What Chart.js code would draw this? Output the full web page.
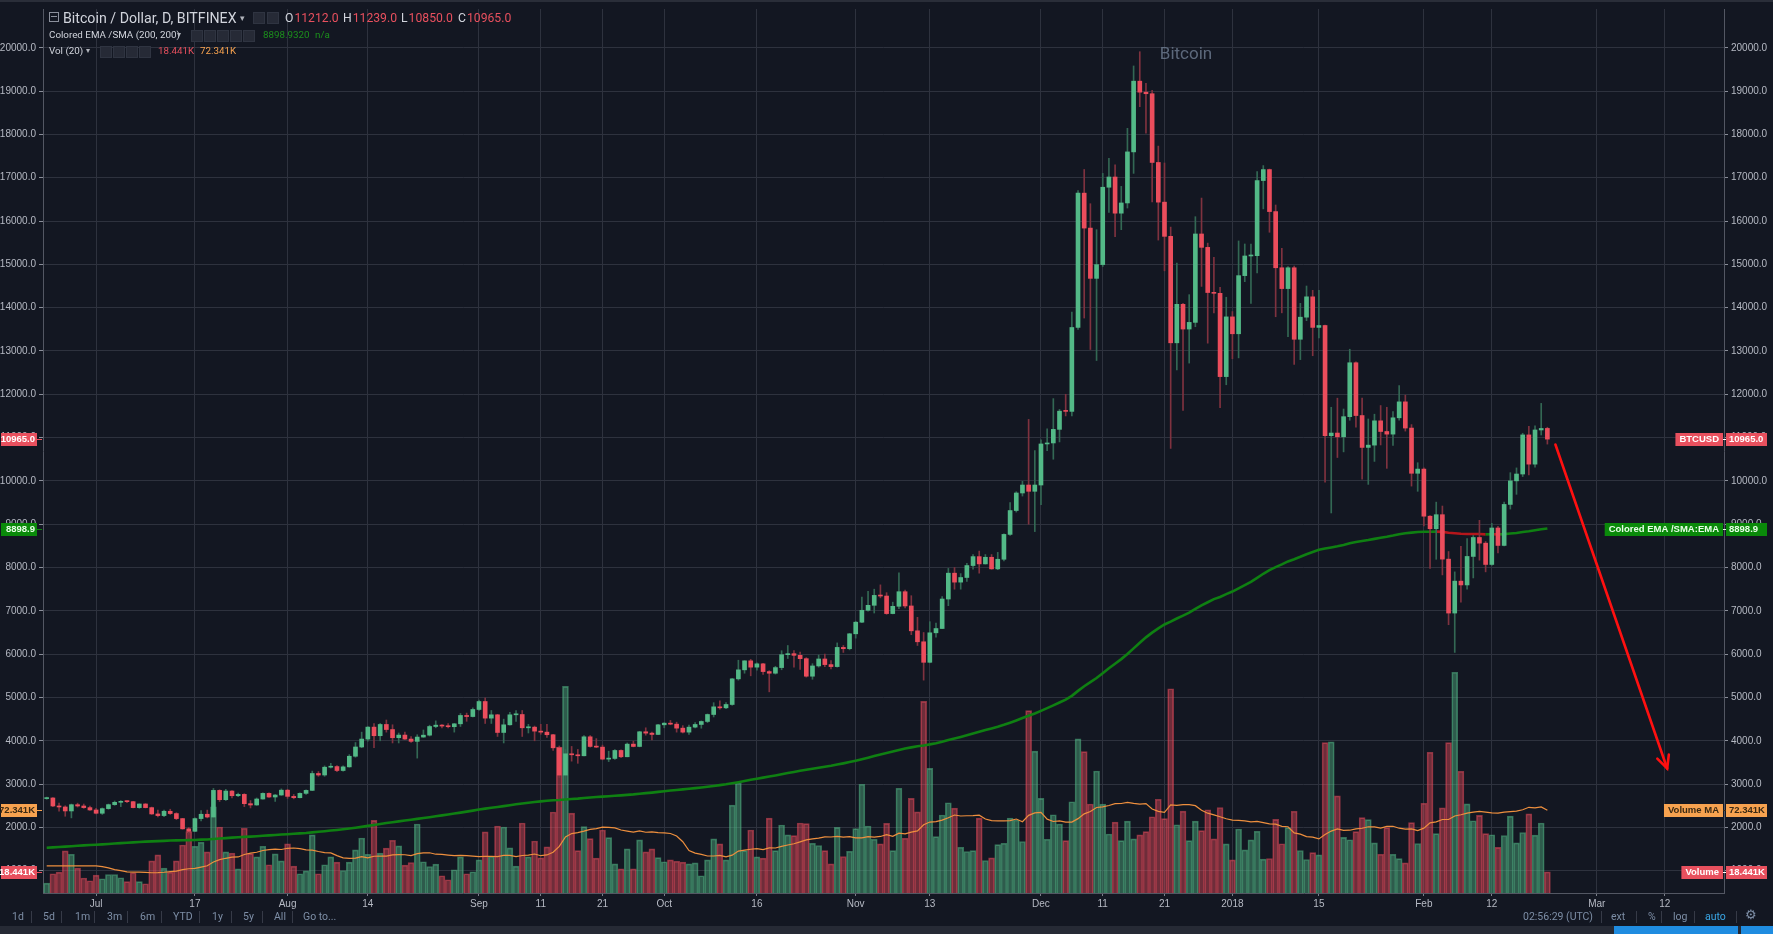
<!DOCTYPE html>
<html><head><meta charset="utf-8">
<script src="https://cdn.jsdelivr.net/npm/chart.js@4.4.0/dist/chart.umd.min.js"></script>
<style>
html,body{margin:0;padding:0;background:#131722;overflow:hidden}
#wrap{position:relative;width:1773px;height:934px;background:#131722}
#c{position:absolute;left:0;top:0}
.t{position:absolute;white-space:nowrap;font-family:Roboto,'Noto Sans',sans-serif;color:#d1d4dc;line-height:14px}
.ib{position:absolute;width:10px;height:10px;background:#262a36;border:1px solid #2f3441}
.sep{position:absolute;width:1px;height:12px;background:#363a47;top:911px}
.tb{position:absolute;top:910px;font-family:Roboto,sans-serif;font-size:10.5px;color:#7d8ea6;line-height:14px;white-space:nowrap}
.v{color:#e8505e;margin-left:1px}
</style></head>
<body><div id="wrap">
<canvas id="c" width="1773" height="934"></canvas>
<!-- header row 1 -->
<div style="position:absolute;left:49px;top:12px;width:8px;height:8px;border:1px solid #8b909c"></div>
<div style="position:absolute;left:51px;top:16px;width:6px;height:1px;background:#8b909c"></div>
<div class="t" style="left:63px;top:10px;font-size:14.2px;line-height:16px">Bitcoin / Dollar, D, BITFINEX</div>
<div class="t" style="left:240px;top:11px;font-size:9px;color:#b0b3bb">▾</div>
<div class="ib" style="left:253px;top:12px"></div><div class="ib" style="left:267px;top:12px"></div>
<div class="t" style="left:285px;top:10px;font-size:12.2px;line-height:16px">O<span class="v">11212.0</span></div>
<div class="t" style="left:343px;top:10px;font-size:12.2px;line-height:16px">H<span class="v">11239.0</span></div>
<div class="t" style="left:401px;top:10px;font-size:12.2px;line-height:16px">L<span class="v">10850.0</span></div>
<div class="t" style="left:458px;top:10px;font-size:12.2px;line-height:16px">C<span class="v">10965.0</span></div>
<!-- header row 2 -->
<div class="t" style="left:49px;top:28px;font-size:9.8px;">Colored EMA /SMA (200, 200)</div>
<div class="t" style="left:177px;top:28px;font-size:8px;color:#b0b3bb">▾</div>
<div class="ib" style="left:191px;top:30px"></div><div class="ib" style="left:204px;top:30px"></div><div class="ib" style="left:217px;top:30px"></div><div class="ib" style="left:230px;top:30px"></div><div class="ib" style="left:243px;top:30px"></div>
<div class="t" style="left:263px;top:28px;font-size:9.8px;color:#1c8f1c">8898.9320</div>
<div class="t" style="left:315px;top:28px;font-size:9.8px;color:#1c8f1c">n/a</div>
<!-- header row 3 -->
<div class="t" style="left:49px;top:44px;font-size:9.8px;">Vol (20)</div>
<div class="t" style="left:86px;top:44px;font-size:8px;color:#b0b3bb">▾</div>
<div class="ib" style="left:100px;top:46px"></div><div class="ib" style="left:113px;top:46px"></div><div class="ib" style="left:126px;top:46px"></div><div class="ib" style="left:139px;top:46px"></div>
<div class="t" style="left:158px;top:44px;font-size:9.8px;color:#e8505e">18.441K</div>
<div class="t" style="left:200px;top:44px;font-size:9.8px;color:#f7a24f">72.341K</div>
<!-- toolbar -->
<div class="tb" style="left:12px">1d</div><div class="sep" style="left:31px"></div>
<div class="tb" style="left:43px">5d</div><div class="sep" style="left:61px"></div>
<div class="tb" style="left:75px">1m</div><div class="sep" style="left:94px"></div>
<div class="tb" style="left:107px">3m</div><div class="sep" style="left:127px"></div>
<div class="tb" style="left:140px">6m</div><div class="sep" style="left:161px"></div>
<div class="tb" style="left:173px">YTD</div><div class="sep" style="left:199px"></div>
<div class="tb" style="left:212px">1y</div><div class="sep" style="left:231px"></div>
<div class="tb" style="left:243px">5y</div><div class="sep" style="left:262px"></div>
<div class="tb" style="left:274px">All</div><div class="sep" style="left:292px"></div>
<div class="tb" style="left:303px">Go to...</div>
<div class="tb" style="left:1523px">02:56:29 (UTC)</div><div class="sep" style="left:1601px"></div>
<div class="tb" style="left:1611px">ext</div><div class="sep" style="left:1636px"></div>
<div class="tb" style="left:1648px">%</div><div class="sep" style="left:1661px"></div>
<div class="tb" style="left:1673px">log</div><div class="sep" style="left:1694px"></div>
<div class="tb" style="left:1705px;color:#3aa7e6">auto</div><div class="sep" style="left:1736px"></div>
<div class="tb" style="left:1745px;font-size:13px;top:908px">⚙</div>
<div style="position:absolute;left:0;top:926px;width:1773px;height:8px;background:#262a35"></div>
<div style="position:absolute;left:1614px;top:926px;width:124px;height:8px;background:#1f8ce0"></div>
<div style="position:absolute;left:1741px;top:926px;width:32px;height:8px;background:#1f8ce0"></div>
</div>
<script>
// ---------------- data ----------------
const startDate = '2017-06-23';
const open = [
2665,2680,2495,2472,2380,2525,2495,2457,
2403,2327,2434,2526,2580,2602,2595,2457,2541,2457,2311,2273,2373,2320,2204,1967,1910,2204,2304,2240,2855,2640,2840,2732,2763,2548,2518,2656,2786,2702,2748,
2860,2717,2686,2786,2855,3245,3210,3390,3405,3314,3398,3643,3857,4040,4316,4117,4377,4260,4071,4132,4040,3987,4086,4130,4330,4361,4340,4325,4392,4585,4560,
4723,4907,4523,4600,4192,4369,4600,4607,4300,4315,4223,4200,4140,3838,3208,3700,3677,3654,4092,3869,3854,3577,3592,3777,3631,3923,3869,4208,4177,4146,
4369,4407,4384,4292,4200,4315,4377,4446,4607,4784,4761,4838,5430,5638,5846,5700,5777,5598,5560,5690,5988,6011,5973,5896,5491,5728,5889,5759,5713,6156,6126,
6470,6738,7013,7128,7357,7342,6937,7105,7442,7113,6539,6286,5812,6493,6592,7273,7870,7663,7770,8046,8252,8084,8237,7969,8191,8765,9316,9721,9905,9760,
9905,10853,10876,11190,11620,11605,13542,16644,15837,14676,14994,16780,17016,16181,16417,17596,19229,18975,18939,17352,16436,15646,13188,14077,13506,13660,15701,15392,14349,14331,12408,
13787,13397,14739,15193,15200,16934,17188,16218,14921,14440,14921,13270,13780,14250,13544,13588,11044,11105,11018,11483,12728,11509,10773,10826,11387,11141,11080,11457,11825,11220,10176,
10273,9185,8896,9220,8194,6949,7686,7598,8256,8694,8563,8071,8913,8510,9457,10001,10159,11062,10387,11176,11212
];
const high = [
2700,2690,2560,2500,2540,2560,2540,2490,
2440,2450,2540,2610,2620,2615,2600,2545,2550,2470,2400,2400,2420,2340,2210,2000,2220,2390,2400,2900,2870,2880,2850,2790,2780,2620,2680,2800,2800,2760,2890,
2880,2760,2800,2870,3300,3290,3420,3480,3430,3420,3680,3960,4200,4330,4400,4400,4480,4370,4180,4200,4100,4140,4250,4360,4460,4375,4400,4400,4630,4640,4760,
4940,4990,4700,4610,4500,4660,4700,4700,4380,4340,4380,4380,4150,3880,3800,3870,3800,4120,4120,4050,3900,3760,3800,3790,3950,3990,4220,4300,4200,4380,
4420,4470,4430,4350,4360,4420,4460,4620,4880,4920,4880,5440,5860,5850,5880,5800,5790,5620,5720,6080,6200,6080,6050,5920,5780,5980,6000,5850,6260,6200,6480,
6760,7320,7450,7500,7600,7420,7200,7880,7480,7350,6850,6500,6750,6720,7330,7980,8000,7860,8100,8300,8380,8300,8300,8350,8780,9500,9750,9990,11420,10700,
10950,11200,11900,11650,12000,13900,16700,17190,16400,15800,17100,17450,17300,16800,18140,19580,19909,19180,19020,17730,17340,15860,15030,14100,14300,16100,16530,15490,15160,14470,14240,
13910,15540,15470,15470,17140,17280,17200,16370,15370,14950,14960,14100,14500,14400,14400,13600,11700,11910,11660,13040,12750,11910,11430,11540,11740,11700,11600,12200,11980,11300,10420,
10300,9200,9510,9420,8370,7900,8490,8670,8740,9090,8600,9020,8950,9510,10190,10300,11100,11260,11270,11790,11239
];
const low = [
2650,2480,2373,2258,2220,2470,2440,2390,
2310,2300,2420,2510,2480,2570,2450,2440,2450,2300,2240,2250,2300,2180,1960,1840,1900,2150,2220,2230,2600,2620,2680,2710,2480,2450,2510,2650,2690,2600,2740,
2670,2660,2680,2760,2850,3180,3180,3370,3290,3300,3390,3620,3840,3990,3840,4000,4200,3950,3950,4030,3960,3600,4080,4110,4300,4300,4300,4200,4330,4450,4550,
4700,4400,4400,4100,3950,4360,4450,4100,4180,4000,4150,4080,3780,3150,3000,3530,3480,3650,3850,3840,3560,3520,3570,3610,3630,3860,3860,4130,4020,4140,
4300,4370,4200,4180,4150,4300,4290,4420,4550,4730,4740,4820,5400,5560,5500,5630,5530,5130,5540,5640,5900,5700,5650,5470,5420,5700,5710,5660,5700,6040,6100,
6370,6730,6990,6950,7300,6920,6930,7050,7070,6450,6200,5400,5800,6390,6590,7120,7500,7500,7680,7960,7870,8080,7960,7950,8150,8740,9280,9650,9000,8830,
9450,10700,10500,10900,11500,11500,13500,13760,13034,12780,14950,16200,15640,15800,16300,17100,18640,18030,16440,15560,14850,10750,12560,11630,12720,13560,14490,13180,13880,11690,12220,
12820,12840,14600,14100,14800,16280,15740,13790,13880,13330,12690,12800,13700,12890,13300,9970,9260,10540,10670,11400,11240,10040,9920,10450,10830,10290,10820,11400,11150,9880,9760,
8960,7980,8190,7830,6680,6040,7200,7500,7760,8170,7900,8050,8340,8500,9350,9690,10100,10140,10320,11060,10850
];
const close = [
2680,2495,2472,2380,2525,2495,2457,2403,
2327,2434,2526,2580,2602,2595,2457,2541,2457,2311,2273,2373,2320,2204,1967,1910,2204,2304,2240,2855,2640,2840,2732,2763,2548,2518,2656,2786,2702,2748,2860,
2717,2686,2786,2855,3245,3210,3390,3405,3314,3398,3643,3857,4040,4316,4117,4377,4260,4071,4132,4040,3987,4086,4130,4330,4361,4340,4325,4392,4585,4560,4723,
4907,4523,4600,4192,4369,4600,4607,4300,4315,4223,4200,4140,3838,3208,3700,3677,3654,4092,3869,3854,3577,3592,3777,3631,3923,3869,4208,4177,4146,4369,
4407,4384,4292,4200,4315,4377,4446,4607,4784,4761,4838,5430,5638,5846,5700,5777,5598,5560,5690,5988,6011,5973,5896,5491,5728,5889,5759,5713,6156,6126,6470,
6738,7013,7128,7357,7342,6937,7105,7442,7113,6539,6286,5812,6493,6592,7273,7870,7663,7770,8046,8252,8084,8237,7969,8191,8765,9316,9721,9905,9760,9905,
10853,10876,11190,11610,11605,13542,16644,15837,14676,14994,16780,17016,16181,16417,17596,19229,18975,18939,17352,16436,15646,13188,14077,13506,13660,15701,15392,14349,14331,12408,13787,
13397,14739,15193,15200,16934,17188,16218,14921,14440,14921,13270,13780,14250,13544,13588,11044,11105,11018,11483,12728,11509,10773,10826,11387,11141,11080,11457,11825,11220,10176,10273,
9185,8896,9220,8194,6949,7686,7598,8256,8694,8563,8071,8913,8510,9457,10001,10159,11062,10387,11176,11211,10965
];
// daily volume, thousands of BTC
const volume = [
8.7,16.8,18.3,36.8,33.9,21.8,13.1,10.7,
15.7,12.5,16.2,16.2,13.3,9.9,17.7,9.9,8.1,28.1,33.4,21.8,18.3,28.1,42,53.7,40.9,44.4,36,75.4,57.7,36,34.8,21.2,56.6,34.5,31.6,40.9,24.7,34.2,28.1,
42.9,23.5,16.8,19.4,50.8,16.8,24.7,31.6,27,19.7,27,37.7,48.1,33.9,63.5,34.8,39.2,46.1,41.2,24.4,26.7,60.3,27.3,23.2,25.2,15.1,11.6,20.3,31.6,16.8,18.6,
29,53.4,31.9,58.6,57.7,39.4,23.5,61.2,31.6,45.5,30.7,40.3,70.8,127.6,180.7,69.9,37.1,58,47.6,30.5,55.1,48.4,25.5,21.2,38.6,21.2,46.4,36,38.6,31,
27.3,29,27.8,27,25.5,26.4,15.1,29,47.3,42.9,29,76.9,96.3,37.1,55.1,31.6,30.5,65.5,37.1,59.5,50.8,50.2,61.2,60.6,43.5,41.5,37.1,25.5,57.4,31.9,36.5,
56.3,95.1,58.6,47,42.9,60.9,37.1,91.6,47.9,82.7,71,167.6,109,49.3,68.2,78.9,74.2,40,36.3,37.1,65.5,28.4,30.7,42.3,43.5,65.5,63.8,45,159.5,124.1,
82.7,47,68.4,60.3,45.8,79.8,134.8,123.6,77.8,106.7,77.7,51.6,62,45.8,62.9,47.3,50.8,53.7,66.7,82,65,178.6,59.7,71.6,45.8,62.9,54.5,72.8,47.3,74.8,42.9,
29,56,37.7,46.4,54,29.6,30.2,64.4,43.1,57.2,71.5,37.2,29.3,35.3,33.3,131.5,132.1,84.9,48.6,46.6,53.6,65.9,64.2,43.9,33.9,57.2,33.9,30,26.3,61.6,43.3,
78.5,123.1,51.9,74.5,131.5,193,106.5,77.9,63.2,67.9,51.9,50.9,39.9,50.3,67.2,43.9,52.9,69.2,50.6,61.2,18.441
];
// Volume MA(20) as drawn for the first 19 days (its window starts before the visible range)
const volMaHead = [23.8,23.8,23.8,23.8,23.8,23.8,23.8,23.8,23.8,23,22,20.5,19.5,18.5,18.3,18.3,18,17.7,17.8];
const volMaPeriod = 20;
const emaPeriod = 200;
const emaStart = 1530;          // EMA(200) value at the first visible day
const emaLastLabel = 8898.932;  // value shown in the header / badge
const volMaLastLabel = 72.341;
// price axis ticks
const priceTicks = [1000,2000,3000,4000,5000,6000,7000,8000,9000,10000,11000,12000,13000,14000,15000,16000,17000,18000,19000,20000];
// x-axis ticks (day index from startDate) and their labels
const tickDays   = [8,24,39,52,70,80,90,100,115,131,143,161,171,181,192,206,223,234,251,262];
const tickLabels = ['Jul','17','Aug','14','Sep','11','21','Oct','16','Nov','13','Dec','11','21','2018','15','Feb','12','Mar','12'];
// hand-drawn arrow (day index, price)
const arrowFrom = [244.3, 10840];
const arrowTo   = [262.4, 3360];
const watermark = 'Bitcoin';

// ---------------- derived ----------------
const n = close.length;
const idx = close.map((_, i) => i);
const isUp = idx.map(i => close[i] >= open[i]);
const ema = [];
const k = 2 / (emaPeriod + 1);
idx.forEach(i => { ema.push(i === 0 ? emaStart : ema[i - 1] + k * (close[i] - ema[i - 1])); });
const volMa = idx.map(i => {
  if (i < volMaHead.length) return volMaHead[i];
  let s = 0; for (let j = i - volMaPeriod + 1; j <= i; j++) s += volume[j];
  return s / volMaPeriod;
});

const UP = '#53b987', DN = '#eb4d5c', UPW = '#336854', DNW = '#7f323f';
const FONT = "'Liberation Sans', Arial, sans-serif";
Chart.defaults.font.family = FONT;
Chart.defaults.font.size = 10;
Chart.defaults.color = '#b6bac4';

const chartPlugin = {
  id: 'tv',
  beforeDraw(chart) {
    const c = chart.ctx; c.save(); c.fillStyle = '#131722'; c.fillRect(0, 0, chart.width, chart.height);
    c.fillStyle = '#2a2e39'; c.fillRect(0, 0, chart.width, 2); c.restore();
  },
  beforeDatasetsDraw(chart) {
    const c = chart.ctx; c.save();
    c.font = "17px Roboto, sans-serif"; c.fillStyle = 'rgba(117,132,153,0.75)';
    c.textAlign = 'center'; c.textBaseline = 'middle';
    c.fillText(watermark, 1186, 55); c.restore();
  },
  afterDatasetsDraw(chart) {
    const x = chart.scales.x, y = chart.scales.y, c = chart.ctx;
    const x1 = x.getPixelForValue(arrowFrom[0]), y1 = y.getPixelForValue(arrowFrom[1]);
    const x2 = x.getPixelForValue(arrowTo[0]), y2 = y.getPixelForValue(arrowTo[1]);
    c.save(); c.strokeStyle = '#ff1010'; c.lineWidth = 2.6; c.lineCap = 'round';
    c.beginPath(); c.moveTo(x1, y1); c.lineTo(x2, y2); c.stroke();
    const a = Math.atan2(y2 - y1, x2 - x1), L = 14;
    c.beginPath();
    c.moveTo(x2 - L * Math.cos(a - 0.45), y2 - L * Math.sin(a - 0.45)); c.lineTo(x2, y2);
    c.lineTo(x2 - L * Math.cos(a + 0.45), y2 - L * Math.sin(a + 0.45)); c.stroke();
    c.restore();
  },
  afterDraw(chart) {
    const c = chart.ctx, ca = chart.chartArea;
    const badges = [
      { sc: 'y', v: close[n - 1], name: 'BTCUSD', txt: close[n - 1].toFixed(1), bg: '#e8505e', fg: '#ffffff' },
      { sc: 'y', v: emaLastLabel, name: 'Colored EMA /SMA:EMA', txt: emaLastLabel.toFixed(1), bg: '#0a8a0a', fg: '#e9ffe9' },
      { sc: 'yVol', v: volMaLastLabel, name: 'Volume MA', txt: volMaLastLabel.toFixed(3) + 'K', bg: '#f7a24f', fg: '#3b2a14' },
      { sc: 'yVol', v: volume[n - 1], name: 'Volume', txt: volume[n - 1].toFixed(3) + 'K', bg: '#e8505e', fg: '#ffffff' }
    ];
    c.save(); c.font = "bold 9.5px " + FONT; c.textBaseline = 'middle';
    badges.forEach(b => {
      const yy = Math.round(chart.scales[b.sc].getPixelForValue(b.v));
      c.fillStyle = b.bg; c.fillRect(ca.right + 2, yy - 6, 41, 13);
      c.fillStyle = b.fg; c.textAlign = 'left'; c.fillText(b.txt, ca.right + 5, yy + 0.5);
      const w = c.measureText(b.name).width + 8;
      c.fillStyle = b.bg; c.fillRect(ca.right - 1 - w, yy - 6, w, 13);
      c.fillStyle = b.fg; c.fillText(b.name, ca.right + 3 - w, yy + 0.5);
      c.fillStyle = b.fg; c.fillRect(ca.right - 1, yy, 3, 1);
      c.fillStyle = b.bg; c.fillRect(1, yy - 6, 36, 13);
      c.fillStyle = b.fg; c.textAlign = 'right'; c.fillText(b.txt, 35, yy + 0.5);
      c.fillStyle = b.bg; c.fillRect(37, yy, 5, 1);
    });
    c.restore();
  }
};

const priceTickSetter = ax => { ax.ticks = priceTicks.map(v => ({ value: v })); };

new Chart(document.getElementById('c'), {
  type: 'bar',
  data: {
    datasets: [
      { type: 'bar', label: 'Volume', yAxisID: 'yVol', order: 6, grouped: false,
        data: idx.map(i => ({ x: i, y: volume[i] })),
        backgroundColor: idx.map(i => isUp[i] ? 'rgba(83,185,135,0.42)' : 'rgba(235,77,92,0.42)'),
        borderColor: idx.map(i => isUp[i] ? 'rgba(83,185,135,0.55)' : 'rgba(235,77,92,0.55)'),
        borderWidth: 1, borderSkipped: 'bottom', barThickness: 6 },
      { type: 'line', label: 'Volume MA', yAxisID: 'yVol', order: 5,
        data: idx.map(i => ({ x: i, y: volMa[i] })), borderColor: '#ee8f3e', borderWidth: 1.2, pointRadius: 0, tension: 0 },
      { type: 'line', label: 'EMA', yAxisID: 'y', order: 4,
        data: idx.map(i => ({ x: i, y: ema[i] })), borderWidth: 2.6, pointRadius: 0, tension: 0, borderColor: '#0f8012',
        segment: { borderColor: s => close[s.p1DataIndex] < ema[s.p1DataIndex] ? '#b5161b' : '#0f8012' } },
      { type: 'bar', label: 'wick', yAxisID: 'y', order: 3, grouped: false,
        data: idx.map(i => ({ x: i, y: [low[i], high[i]] })),
        backgroundColor: idx.map(i => isUp[i] ? UPW : DNW), barThickness: 1 },
      { type: 'bar', label: 'body', yAxisID: 'y', order: 2, grouped: false,
        data: idx.map(i => ({ x: i, y: [open[i], close[i]] })),
        backgroundColor: idx.map(i => isUp[i] ? UP : DN), barThickness: 4, minBarLength: 1 }
    ]
  },
  options: {
    responsive: false, animation: false, devicePixelRatio: 1, events: [],
    layout: { padding: { left: 0, right: 0, top: 4, bottom: 23 } },
    plugins: { legend: { display: false }, tooltip: { enabled: false } },
    scales: {
      x: { type: 'linear', min: -0.6, max: 271.6, offset: false,
        afterBuildTicks: ax => { ax.ticks = tickDays.map(v => ({ value: v })); },
        afterFit: s => { s.height = 18; },
        grid: { color: '#2e323e', offset: false, tickLength: 3, tickColor: '#7b7f8a' },
        border: { color: '#535763' },
        ticks: { autoSkip: false, maxRotation: 0, padding: 2, color: '#b6bac4', font: { size: 10 },
          callback: (v, i) => tickLabels[i] } },
      y: { position: 'right', min: 486, max: 20895,
        afterBuildTicks: priceTickSetter,
        afterFit: s => { s.width = 49; },
        grid: { color: '#2e323e', tickLength: 4, tickColor: '#8a8e99' },
        border: { color: '#535763' },
        ticks: { autoSkip: false, padding: 3, color: '#b6bac4', font: { size: 10 },
          callback: v => Number(v).toFixed(1) } },
      yL: { position: 'left', min: 486, max: 20895,
        afterBuildTicks: priceTickSetter,
        afterFit: s => { s.width = 43; },
        grid: { drawOnChartArea: false, tickLength: 4, color: '#8a8e99' },
        border: { color: '#535763' },
        ticks: { autoSkip: false, padding: 3, color: '#b6bac4', font: { size: 10 },
          callback: v => Number(v).toFixed(1) } },
      yVol: { display: false, min: 0, max: 773 }
    }
  },
  plugins: [chartPlugin]
});
</script>
</body></html>
